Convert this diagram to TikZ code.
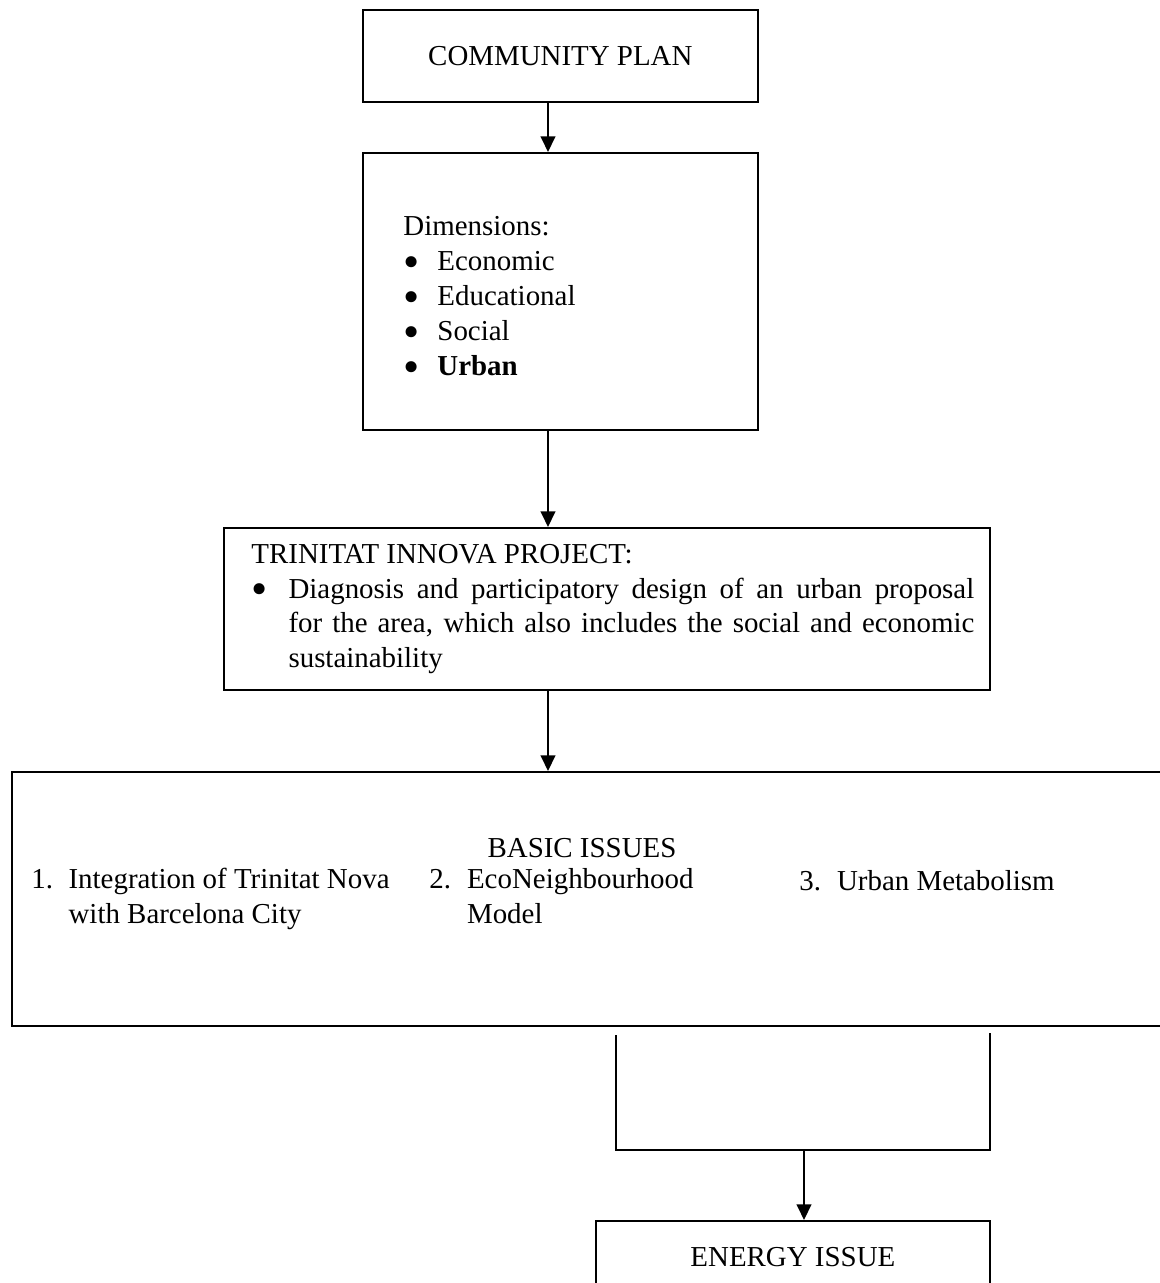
\documentclass[tikz,border=0pt]{standalone}
\usepackage{fontspec}
\setmainfont{Liberation Serif}
\usepackage{tikz}
\usetikzlibrary{arrows.meta,positioning}

\newcommand{\blt}[1]{\makebox[#1][l]{\raisebox{-2.8pt}{\scalebox{1.6}{\textbullet}}}}

\begin{document}
\begin{tikzpicture}[x=0.415pt,y=-0.415pt,>={Triangle[width=6pt,length=6.5pt]},
		txt/.style={inner sep=0pt,font=\fontsize{12}{14.3}\selectfont},
		box/.style={draw,line width=0.75pt,anchor=north west,txt},
		link/.style={->,line width=1.2pt},
		bracket/.style={line width=0.6pt}]
		\path[use as bounding box,clip] (0,0) rectangle (1160,1283);
		\coordinate (axis) at (548,0);
		% boxes
		\node[box,minimum width=163.9pt,minimum height=38.2pt] (plan) at (362,9) {COMMUNITY PLAN};
		\node[box,minimum width=163.9pt,minimum height=115pt] (dim) at (362,152) {};
		\node[box,minimum width=317.9pt,minimum height=67.2pt] (trin) at (223,527) {};
		\node[box,minimum width=481pt,minimum height=105.4pt] (basic) at (11,771) {};
		\node[box,minimum width=163.5pt,minimum height=29.9pt] (energy) at (595,1220) {ENERGY ISSUE};
		% texts in the boxes
		\node[txt,font=\fontsize{12}{14.6}\selectfont,align=left,right=17pt of dim.west,yshift=-3.3pt] (dimtext)
			{Dimensions:\\ \blt{14.1pt}Economic\\ \blt{14.1pt}Educational\\ \blt{14.1pt}Social\\ \blt{14.1pt}\textbf{Urban}};
		\node[txt,text width=300pt,align=justify,right=11.6pt of trin.west] (trintext)
			{\noindent TRINITAT INNOVA PROJECT:\par
			\leftskip=15.4pt\noindent\llap{\blt{15.4pt}}Diagnosis and participatory design of an urban proposal\linebreak
			for the area, which also includes the social and economic\linebreak sustainability\par};
		\node[txt,anchor=base] (basictitle) at (582,857) {BASIC ISSUES};
		\node[txt,anchor=base west,align=left] (iss1) at (31,923)
			{\makebox[15.4pt][l]{1.}Integration of Trinitat Nova\\\hspace*{15.4pt}with Barcelona City};
		\node[txt,anchor=base west,align=left] (iss2) at (429,923)
			{\makebox[15.6pt][l]{2.}EcoNeighbourhood\\\hspace*{15.6pt}Model};
		\node[txt,anchor=base west,align=left] (iss3) at (799,890)
			{\makebox[15.6pt][l]{3.}Urban Metabolism};
		% connectors
		\path (plan.south -| axis) edge[link] (dim.north -| axis)
			(dim.south -| axis) edge[link] (trin.north -| axis)
			(trin.south -| axis) edge[link] (basic.north -| axis);
		\coordinate (lfoot) at (616,1035);
		\coordinate (rfoot) at (990,1033);
		\coordinate (join) at (804,1150);
		\draw[bracket] (lfoot) |- (join) -| (rfoot);
		\draw[link] (join) -- (join |- energy.north);
\end{tikzpicture}
\end{document}
